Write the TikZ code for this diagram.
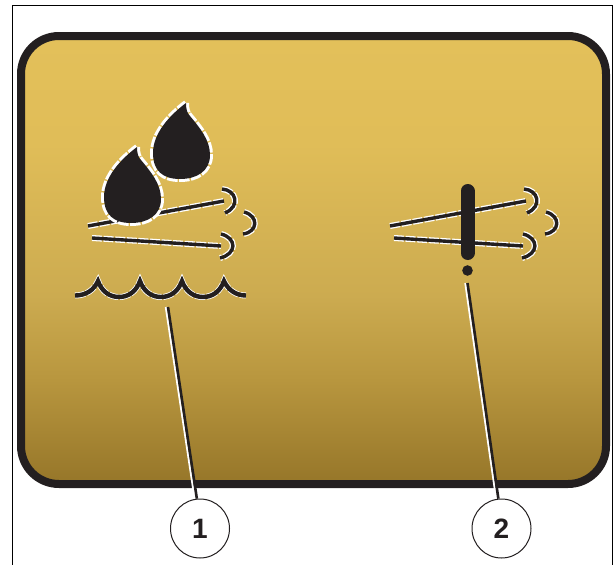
\documentclass[tikz,border=0pt]{standalone}
\usepackage{fontspec}
\setmainfont{Liberation Sans}
\definecolor{ink}{HTML}{231F20}
\definecolor{sandA}{HTML}{E3C05A}
\definecolor{sandB}{HTML}{E0BD58}
\definecolor{sandC}{HTML}{CCAB50}
\definecolor{sandD}{HTML}{B9973F}
\definecolor{sandE}{HTML}{967629}
\pgfdeclareverticalshading{panelfade}{100bp}{color(0bp)=(sandE); color(25bp)=(sandE); color(37bp)=(sandD); color(46bp)=(sandC); color(63bp)=(sandB); color(75bp)=(sandA); color(100bp)=(sandA)}
\tikzset{
  halo/.style={draw=white,line width=6,dash pattern=on 10 off 1.6},
  stroke/.style={draw=ink,line width=3.4},
  callout/.style={circle,draw=ink,line width=1,fill=white,minimum size=59,inner sep=0,font=\fontsize{28}{28}\selectfont\bfseries,text=ink}
}
\begin{document}
\begin{tikzpicture}[x=1pt,y=-1pt]
  \useasboundingbox (0,0) rectangle (616,565);
  % silhouettes
  \def\droplet{(0,0) .. controls (0,6) and (1,10) .. (4,13) .. controls (14,25) and (24,37) .. (24,52) .. controls (24,68) and (11,76) .. (-6,76) .. controls (-23,76) and (-33,68) .. (-33,50) .. controls (-33,30) and (-16,12) .. (0,0) -- cycle}
  \def\gust{(88,226) -- (224,201) (92,238) -- (221,246)
    (222,189) .. controls (236,190) and (241,206) .. (225,213)
    (244,212) .. controls (259,216) and (258,232) .. (243,234)
    (221,234) .. controls (237,238) and (237,254) .. (220,258)}

  % cadre
  \draw[line width=0.8] (12.5,565) -- (12.5,5.5) -- (612.5,5.5) -- (612.5,565);
  % panneau
  \path[draw=ink,line width=8,rounded corners=38,shading=panelfade] (21,36) rectangle (606,484);

  % vent
  \foreach \dx in {0,302} {
    \begin{scope}[shift={(\dx,0)}]
      \path[halo] \gust;
      \path[stroke] \gust;
    \end{scope}
  }

  % gouttes
  \foreach \tipx/\tipy in {186/103,137/147} {
    \begin{scope}[shift={(\tipx,\tipy)}]
      \path[halo] \droplet;
      \fill[ink] \droplet;
    \end{scope}
  }

  % vagues
  \def\waves{(75,295.5) .. controls (86,295.5) and (94,290) .. (98,281) .. controls (102,292) and (110,297) .. (119,297) .. controls (128,297) and (136,292) .. (140,281) .. controls (144,292) and (152,297) .. (161,297) .. controls (170,297) and (178,292) .. (182,281) .. controls (186,292) and (194,297) .. (203,297) .. controls (212,297) and (220,292) .. (224,281) .. controls (228,290) and (236,295.5) .. (246,295.5)}
  \path[halo] \waves;
  \path[draw=ink,line width=4.4] \waves;

  % barre et point
  \draw[ink,line width=14,line cap=round] (467.5,191) -- (467.5,253);
  \fill[ink] (467.5,270.5) circle (5.3);

  % reperes
  \node[callout] (one) at (200,528.5) {1};
  \node[callout] (two) at (501.5,528.5) {2};
  \coordinate (waveend) at (168,307);
  \coordinate (dotend) at (467.5,283);
  \draw[white,line width=2,transform canvas={xshift=-2.2pt}] (waveend) -- (one.96);
  \draw[white,line width=2,transform canvas={xshift=-2.2pt}] (dotend) -- (two.96);
  \draw[ink,line width=2.6] (waveend) -- (one.96);
  \draw[ink,line width=2.6] (dotend) -- (two.96);
\end{tikzpicture}
\end{document}
